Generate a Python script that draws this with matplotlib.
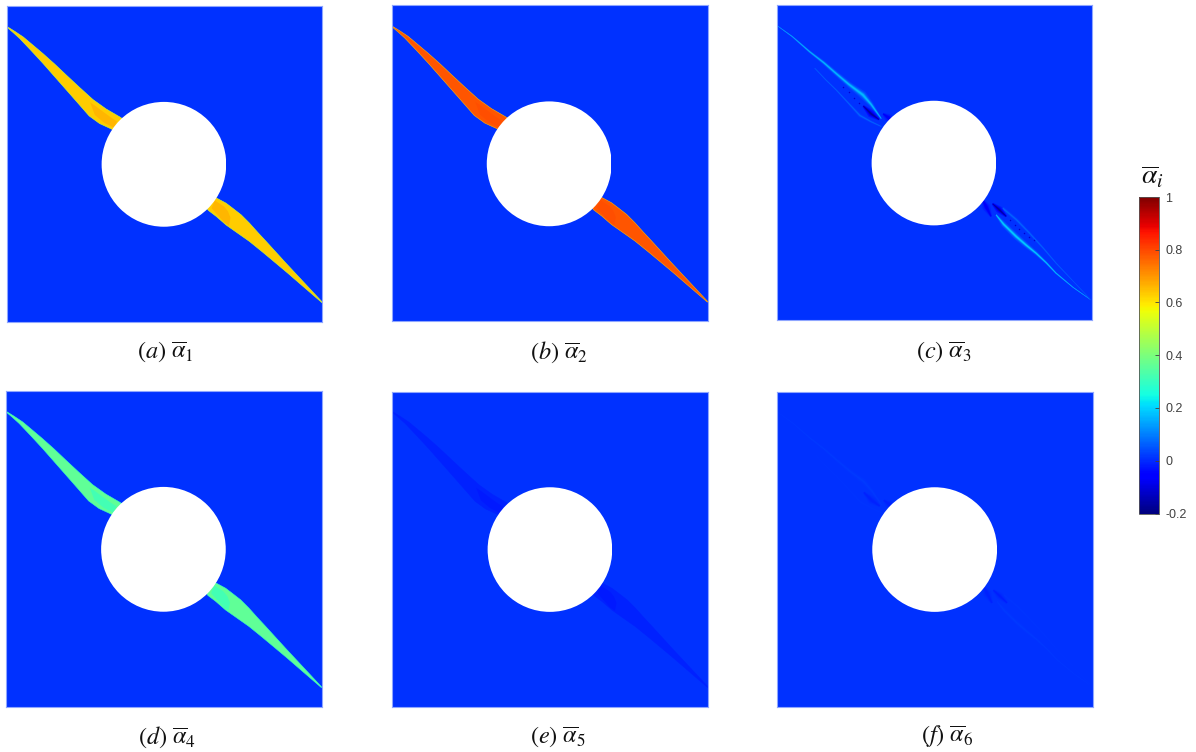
import numpy as np
import matplotlib
matplotlib.use("Agg")
import matplotlib.pyplot as plt
from matplotlib.patches import Polygon, Circle, Rectangle
from matplotlib.colors import Normalize
from matplotlib.cm import ScalarMappable

W, H = 1196, 752
plt.rcParams['mathtext.fontset'] = 'stix'

# --- data (panel coordinates: percent of panel width / height, y from top) ---
panel_names = ['a', 'b', 'c', 'd', 'e', 'f']
panel_index = [1, 2, 3, 4, 5, 6]
background = 0.007

band_ul_x = [0, 2.6, 5.3, 8.4, 11.6, 15.3, 19, 23.2, 27.4, 31.6, 35.9, 38,
             36, 33.2, 29.5, 26.2, 22.7, 19, 15.3, 11.6, 7.9, 4.2, 2.1, 0]
band_ul_y = [6.4, 8, 9.8, 12.4, 15.1, 18.4, 21.9, 25.8, 29.6, 32.6, 35.1, 36.5,
             40.5, 38.9, 37.2, 34.8, 30.8, 26.6, 22.4, 18.2, 14.2, 10.3, 8.4, 6.6]
band_lr_x = [65, 67, 69.6, 71.7, 74.4, 77, 79.6, 82.3, 85.4, 88.6, 92.8, 100,
             100, 92.8, 89.1, 85.4, 81.2, 77, 73.3, 69.6, 66.5, 64, 62]
band_lr_y = [60, 61, 62.4, 64, 66.1, 68.7, 71.6, 74.5, 77.9, 81.4, 85.9, 93.6,
             93.9, 87.7, 84.5, 81.4, 77.9, 74.5, 71.9, 69.3, 66.6, 64.7, 62]
band_values = {'a': 0.63, 'b': 0.78, 'd': 0.36, 'e': -0.012}
band_edges = {'a': 0.5, 'b': 0.66, 'd': 0.3, 'e': -0.008}

core_ul_x = [26.5, 28, 30, 33, 35, 34, 31, 28]
core_ul_y = [30.5, 31.5, 33, 35.2, 36.5, 38.5, 37, 34.5]
core_lr_x = [66, 67.5, 69, 70.2, 71, 70.5, 69, 65]
core_lr_y = [61.5, 62.5, 63.5, 65, 67, 69.5, 68.5, 64]
core_values = {'a': 0.66, 'b': 0.79, 'd': 0.32, 'e': -0.018}

# thin strain streaks of panels c and f: x, y, half-widths
s1_x = [0, 5, 10.5, 15, 19, 23, 27.4, 30, 33.2]
s1_y = [6.4, 10, 14.8, 18.3, 21.8, 25.2, 28.5, 31.5, 36]
s1_w = [0.04, 0.08, 0.14, 0.2, 0.24, 0.3, 0.42, 0.26, 0.08]
s2_x = [12.1, 15.5, 19, 22.7, 26.4, 30, 33.2]
s2_y = [20, 23.6, 27, 31, 35, 37, 38.5]
s2_w = [0.06, 0.08, 0.09, 0.12, 0.2, 0.14, 0.08]
s3_x = [27.5, 30, 32.5]
s3_y = [32, 34.5, 36.3]
s3_w = [0.12, 0.42, 0.12]
s4_x = [33.8, 35.5, 37]
s4_y = [34.5, 35.7, 37.5]
s4_w = [0.12, 0.45, 0.12]
s5_x = [69.6, 72, 76, 79, 82.3, 85.5, 88.6, 94, 99.7]
s5_y = [66.5, 69.5, 73.4, 76, 78.7, 81.7, 85, 89.5, 93.5]
s5_w = [0.1, 0.28, 0.32, 0.28, 0.2, 0.14, 0.1, 0.06, 0.04]
s6_x = [71.7, 76, 80.2, 84.5, 88.6, 94, 99.7]
s6_y = [64.4, 68, 72.3, 77, 81.8, 87.5, 93.5]
s6_w = [0.2, 0.2, 0.16, 0.12, 0.08, 0.05, 0.04]
s7_x = [68.5, 70.5, 72.8]
s7_y = [63, 64.8, 67]
s7_w = [0.12, 0.38, 0.12]
s8_x = [65.4, 66.5, 68]
s8_y = [61.8, 64, 67]
s8_w = [0.12, 0.45, 0.12]
streaks = [(s1_x, s1_y, s1_w), (s2_x, s2_y, s2_w), (s3_x, s3_y, s3_w), (s4_x, s4_y, s4_w),
           (s5_x, s5_y, s5_w), (s6_x, s6_y, s6_w), (s7_x, s7_y, s7_w), (s8_x, s8_y, s8_w)]
streak_values_c = [0.17, 0.07, -0.16, -0.07, 0.19, 0.07, -0.16, -0.07]
streak_values_f = [0.02, 0.015, -0.012, -0.01, 0.02, 0.015, -0.015, -0.012]

dots_x = [21, 23, 24.5, 26, 74, 75.5, 77, 78.5, 80, 81.5]
dots_y = [26, 27.5, 29.5, 31, 68.3, 69.6, 71, 72.2, 73.4, 74.6]

hole_center = (49.9, 50.1)
hole_radius = 19.75
hole_cut = 69.6

cbar_ticks = [-0.2, 0, 0.2, 0.4, 0.6, 0.8, 1]
cbar_labels = ['-0.2', '0', '0.2', '0.4', '0.6', '0.8', '1']

# --- layout (pixels: left, right, top, bottom) ---
boxes = {'a': (6.5, 322, 6, 322), 'b': (391.5, 707.5, 5.5, 321.5), 'c': (776.5, 1092, 5, 320.5),
         'd': (6, 321.5, 391, 707), 'e': (392.5, 708, 391.5, 707), 'f': (777, 1093, 391.5, 707)}
label_pos = {'a': (165, 352), 'b': (559, 352), 'c': (944, 352),
             'd': (167, 737), 'e': (558, 737), 'f': (947, 737)}

norm = Normalize(-0.2, 1)
cmap = matplotlib.colormaps['jet']
col = lambda v: cmap(norm(v))

fig = plt.figure(figsize=(W / 100, H / 100), dpi=100, facecolor='white')


def taper(x, y, w, scale):
    x, y, w = map(np.asarray, (x, y, w))
    dx, dy = np.gradient(x), np.gradient(y)
    L = np.hypot(dx, dy)
    nx, ny = -dy / L, dx / L
    return np.r_[np.c_[x + nx * w * scale, y + ny * w * scale],
                 np.c_[x - nx * w * scale, y - ny * w * scale][::-1]]


for name, idx in zip(panel_names, panel_index):
    l, r, t, b = boxes[name]
    ax = fig.add_axes([l / W, 1 - b / H, (r - l) / W, (b - t) / H])
    ax.set_xlim(0, 100)
    ax.set_ylim(100, 0)
    ax.set_xticks([])
    ax.set_yticks([])
    ax.set_facecolor(col(background))
    for sp in ax.spines.values():
        sp.set_color('#8fa6ff')
        sp.set_linewidth(0.8)

    if name in band_values:
        for bx, by, cx, cy in ((band_ul_x, band_ul_y, core_ul_x, core_ul_y),
                               (band_lr_x, band_lr_y, core_lr_x, core_lr_y)):
            ax.add_patch(Polygon(np.c_[bx, by], closed=True, facecolor=col(band_values[name]),
                                 edgecolor=col(band_edges[name]), linewidth=0.4))
            ax.add_patch(Polygon(np.c_[cx, cy], closed=True, facecolor=col(core_values[name]),
                                 edgecolor='none'))
    else:
        vals = streak_values_c if name == 'c' else streak_values_f
        for (sx, sy, sw), v in zip(streaks, vals):
            for scale, frac in ((3.0, 0.15), (2.0, 0.35), (1.3, 0.65), (0.7, 1.0)):
                vv = background + (v - background) * frac
                ax.add_patch(Polygon(taper(sx, sy, sw, scale), closed=True, facecolor=col(vv),
                                     edgecolor='none'))
        if name == 'c':
            ax.scatter(dots_x, dots_y, s=1.2, color=col(-0.12), linewidths=0)

    clip = Rectangle((0, 0), hole_cut, 100, transform=ax.transData)
    hole = Circle(hole_center, hole_radius, facecolor='white', edgecolor='none')
    ax.add_patch(hole)
    hole.set_clip_path(clip)

    x, y = label_pos[name]
    fig.text(x / W, 1 - y / H, rf'$({name})\ \overline{{\alpha}}_{idx}$', ha='center', va='center',
             fontsize=17.5, color='#111111')

# colorbar
cax = fig.add_axes([1139 / W, 1 - 513.5 / H, 19.5 / W, 316.5 / H])
cb = fig.colorbar(ScalarMappable(norm=norm, cmap=cmap), cax=cax)
cb.set_ticks(cbar_ticks, labels=cbar_labels)
cb.ax.tick_params(direction='in', length=3, width=0.6, color='#404040', labelsize=9,
                  labelcolor='#404040', pad=5)
for t in cb.ax.get_yticklabels():
    t.set_fontfamily('Liberation Sans')
cb.outline.set_edgecolor('#555555')
cb.outline.set_linewidth(0.6)
fig.text(1152 / W, 1 - 176 / H, r'$\overline{\alpha}_i$', ha='center', va='center', fontsize=20, color='#111111')

fig.savefig('out.png', dpi=100, facecolor='white')
